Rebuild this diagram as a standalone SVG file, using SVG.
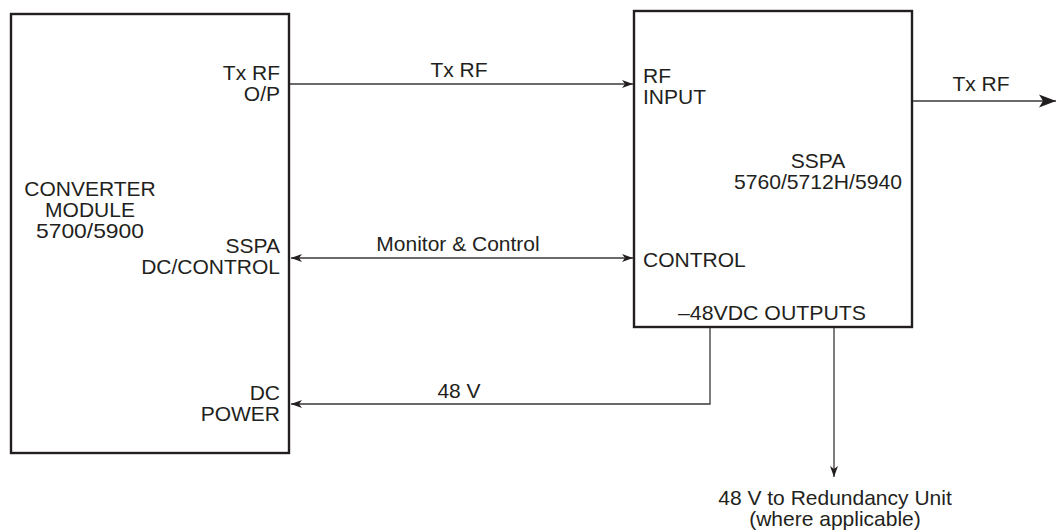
<svg xmlns="http://www.w3.org/2000/svg" width="1058" height="531" viewBox="0 0 1058 531">
<style>
.box{fill:#fff;stroke:#231f20;stroke-width:2.4}
.ln{fill:none;stroke:#3a3738;stroke-width:1.3}
text{font-family:"Liberation Sans",Arial,Helvetica,sans-serif;font-size:21px;fill:#231f20}
.m{text-anchor:middle}
.e{text-anchor:end}
</style>
<defs>
<marker id="ah" markerUnits="userSpaceOnUse" markerWidth="12" markerHeight="10" viewBox="0 0 12 10" refX="11" refY="5" orient="auto-start-reverse">
<path d="M0,1 L11,5 L0,9 L3,5 z" fill="#231f20"/>
</marker>
<marker id="big" markerUnits="userSpaceOnUse" markerWidth="18" markerHeight="14" viewBox="0 0 18 14" refX="17" refY="7" orient="auto">
<path d="M0,0.5 L17,7 L0,13.5 L4,7 z" fill="#231f20"/>
</marker>
</defs>
<g id="converter">
<rect class="box" x="11" y="14" width="278" height="439"/>
<text class="m" x="90" y="196">CONVERTER</text>
<text class="m" x="90" y="217">MODULE</text>
<text class="m" x="90" y="238" textLength="108" lengthAdjust="spacingAndGlyphs">5700/5900</text>
<text class="e" x="280" y="80">Tx RF</text>
<text class="e" x="280" y="101">O/P</text>
<text class="e" x="280" y="253">SSPA</text>
<text class="e" x="280" y="274">DC/CONTROL</text>
<text class="e" x="280" y="400">DC</text>
<text class="e" x="280" y="421">POWER</text>
</g>
<g id="sspa">
<rect class="box" x="634" y="11" width="278" height="316"/>
<text x="643" y="83">RF</text>
<text x="643" y="104">INPUT</text>
<text x="643" y="267">CONTROL</text>
<text class="m" x="818" y="168">SSPA</text>
<text class="m" x="818" y="189" textLength="168" lengthAdjust="spacingAndGlyphs">5760/5712H/5940</text>
<text class="m" x="772" y="320" textLength="188" lengthAdjust="spacingAndGlyphs">–48VDC OUTPUTS</text>
</g>
<g id="connectors">
<line class="ln" x1="290" y1="84" x2="633" y2="84" marker-end="url(#ah)"/>
<text class="m" x="459" y="77">Tx RF</text>
<line class="ln" x1="291" y1="258" x2="633" y2="258" marker-start="url(#ah)" marker-end="url(#ah)"/>
<text class="m" x="458" y="251">Monitor &amp; Control</text>
<polyline class="ln" points="710,328 710,404 291,404" marker-end="url(#ah)"/>
<text class="m" x="459" y="398">48 V</text>
<line class="ln" x1="913" y1="101" x2="1056" y2="101" marker-end="url(#big)"/>
<text class="m" x="981" y="91">Tx RF</text>
<line class="ln" x1="834" y1="328" x2="834" y2="477" marker-end="url(#ah)"/>
<text class="m" x="835" y="505">48 V to Redundancy Unit</text>
<text class="m" x="835" y="526">(where applicable)</text>
</g>
</svg>
